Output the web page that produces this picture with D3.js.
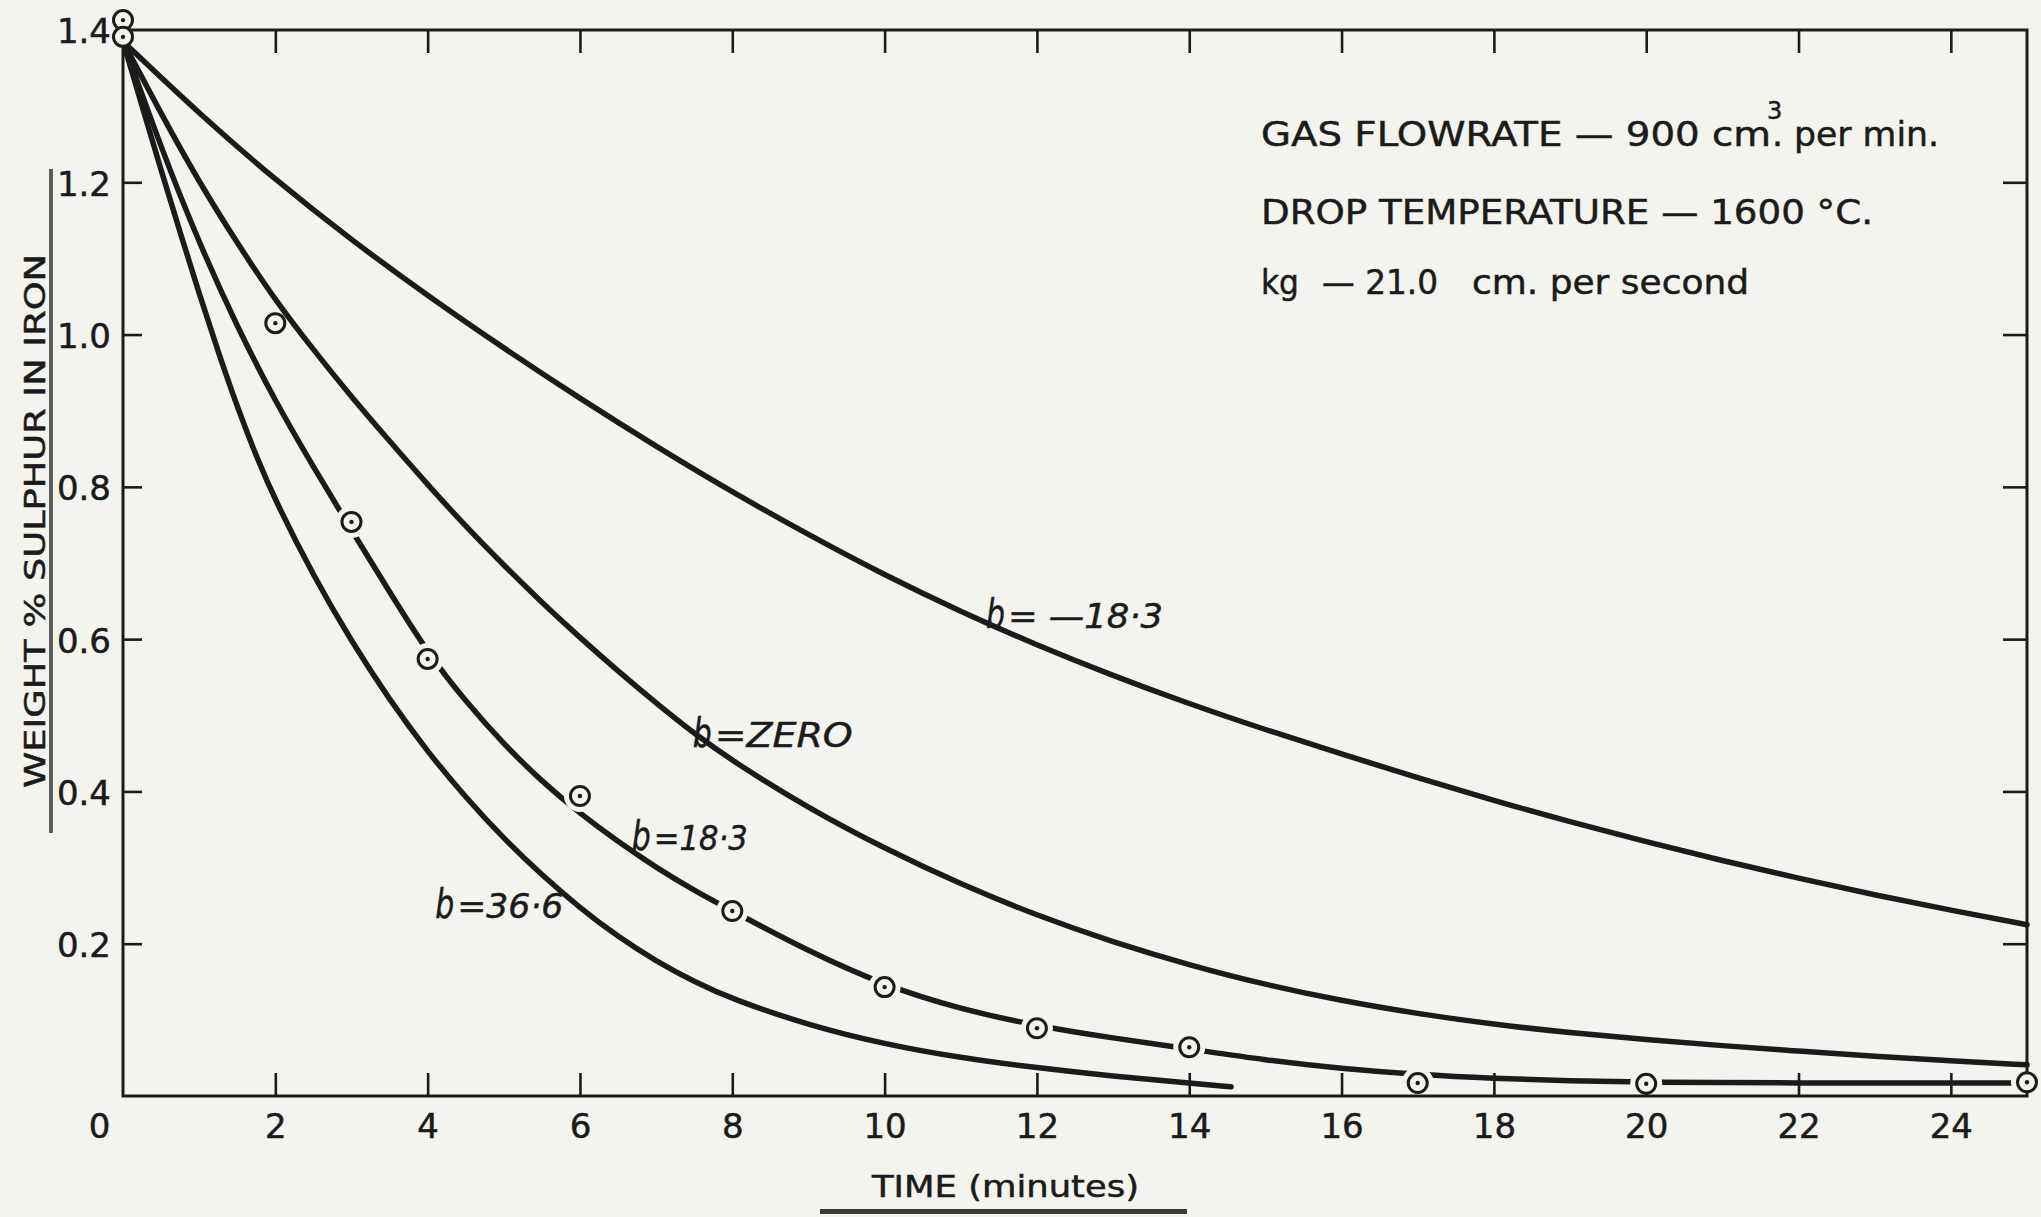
<!DOCTYPE html>
<html>
<head>
<meta charset="utf-8">
<script src="https://cdn.jsdelivr.net/npm/d3@7"></script>
<style>
  html, body { margin: 0; padding: 0; background: #f4f4ee; }
  svg { display: block; }
  text { font-family: "DejaVu Sans", "Liberation Sans", sans-serif; fill: #1b1b1b; stroke: #1b1b1b; stroke-width: 0.5; }
</style>
</head>
<body>
<svg id="chart" width="2041" height="1217"></svg>
<script>
// Sulphur removal from a falling iron drop: weight % S against time
// for four values of the parameter b, with measured points.

// ---- curve b = -18.3 ----
const timeNeg183 = [0, 1, 2, 3, 4, 5, 6, 7, 8, 9, 10, 11, 12, 13, 14, 15, 16, 17, 18, 19, 20, 21, 22, 23, 24, 25];
const sulphurNeg183 = [1.385, 1.29, 1.203, 1.124, 1.051, 0.982, 0.916, 0.853, 0.793, 0.737, 0.684, 0.636, 0.592, 0.552, 0.515, 0.481, 0.449, 0.418, 0.388, 0.36, 0.334, 0.309, 0.286, 0.264, 0.244, 0.225];

// ---- curve b = zero ----
const timeZero = [0, 0.5, 1, 1.5, 2, 2.5, 3, 3.5, 4, 4.5, 5, 5.5, 6, 6.5, 7, 7.5, 8, 9, 10, 11, 12, 13, 14, 15, 16, 17, 18, 19, 20, 21, 22, 23, 24, 25];
const sulphurZero = [1.385, 1.29, 1.2, 1.12, 1.045, 0.98, 0.918, 0.86, 0.803, 0.748, 0.697, 0.648, 0.602, 0.558, 0.516, 0.476, 0.44, 0.378, 0.325, 0.278, 0.237, 0.202, 0.172, 0.146, 0.125, 0.108, 0.094, 0.083, 0.074, 0.066, 0.059, 0.052, 0.046, 0.041];

// ---- curve b = 18.3 ----
const time183 = [0, 0.5, 1, 1.5, 2, 2.5, 3, 3.5, 4, 4.5, 5, 5.5, 6, 6.5, 7, 7.5, 8, 9, 10, 11, 12, 13, 14, 15, 16, 17, 18, 19, 20, 22, 24, 25];
const sulphur183 = [1.385, 1.245, 1.12, 1.01, 0.912, 0.826, 0.743, 0.662, 0.582, 0.518, 0.462, 0.413, 0.371, 0.334, 0.3, 0.27, 0.243, 0.19, 0.145, 0.114, 0.092, 0.076, 0.062, 0.047, 0.036, 0.028, 0.023, 0.02, 0.018, 0.017, 0.017, 0.017];

// ---- curve b = 36.6 ----
const time366 = [0, 0.25, 0.5, 0.75, 1, 1.25, 1.5, 1.75, 2, 2.5, 3, 3.5, 4, 4.5, 5, 5.5, 6, 6.5, 7, 7.5, 8, 9, 10, 11, 12, 13, 14, 14.55];
const sulphur366 = [1.385, 1.3, 1.216, 1.134, 1.054, 0.977, 0.905, 0.84, 0.782, 0.683, 0.597, 0.52, 0.452, 0.392, 0.338, 0.29, 0.247, 0.209, 0.177, 0.15, 0.127, 0.093, 0.068, 0.05, 0.037, 0.026, 0.017, 0.012];

// ---- measured points ----
const pointTime = [0, 0, 2, 3, 4, 6, 8, 10, 12, 14, 17, 20, 25];
const pointSulphur = [1.413, 1.391, 1.015, 0.754, 0.574, 0.394, 0.243, 0.143, 0.089, 0.064, 0.017, 0.016, 0.018];

// ---- axis ticks ----
const xTickValues = [0, 2, 4, 6, 8, 10, 12, 14, 16, 18, 20, 22, 24];
const yTickValues = [0.2, 0.4, 0.6, 0.8, 1.0, 1.2, 1.4];

// ---- curve labels (anchored in data units) ----
const labelNames = ["= \u201418\u00b73", "=ZERO", "=18\u00b73", "=36\u00b76"];
const labelTime = [11.33, 7.48, 6.68, 4.10];
const labelSulphur = [0.615, 0.458, 0.323, 0.234];

// ---- styling ----
const ink = "#1b1b1b";
const paper = "#f4f4ee";
const labelWidths = [157, 140, 96, 108];

const svg = d3.select("#chart");

const x = d3.scaleLinear().domain([0, 25]).range([123, 2027]);
const y = d3.scaleLinear().domain([0, 1.4]).range([1096, 30]);

const defs = svg.append("defs");

// paper
svg.append("rect").attr("width", 2041).attr("height", 1217).attr("fill", paper);

// ---- axes (ticks point inwards) ----
function styleAxis(g) {
  g.attr("color", ink)
   .attr("font-family", "DejaVu Sans, Liberation Sans, sans-serif")
   .attr("font-size", 34);
  g.select(".domain").remove();
  g.selectAll(".tick line").attr("stroke-width", 2.6);
}

const gBottom = svg.append("g")
  .attr("transform", `translate(0,${y(0)})`)
  .call(d3.axisBottom(x).tickValues(xTickValues).tickSizeInner(-23).tickSizeOuter(0)
        .tickPadding(18).tickFormat(d3.format("d")))
  .call(styleAxis);
gBottom.selectAll(".tick").filter(d => d === 0).select("line").remove();
gBottom.selectAll(".tick").filter(d => d === 0).select("text").attr("x", -24);

const gLeft = svg.append("g")
  .attr("transform", `translate(${x(0)},0)`)
  .call(d3.axisLeft(y).tickValues(yTickValues).tickSizeInner(-19).tickSizeOuter(0)
        .tickPadding(12).tickFormat(d3.format(".1f")))
  .call(styleAxis);
gLeft.selectAll(".tick text").attr("dy", "0.38em");
gLeft.selectAll(".tick").filter(d => d === 1.4).select("line").remove();

svg.append("g")
  .attr("transform", `translate(0,${y(1.4)})`)
  .call(d3.axisTop(x).tickValues(xTickValues.filter(d => d > 0)).tickSizeInner(-23)
        .tickSizeOuter(0).tickFormat(""))
  .call(styleAxis);

svg.append("g")
  .attr("transform", `translate(${x(25)},0)`)
  .call(d3.axisRight(y).tickValues(yTickValues.filter(d => d < 1.4)).tickSizeInner(-24)
        .tickSizeOuter(0).tickFormat(""))
  .call(styleAxis);

// frame
svg.append("rect")
  .attr("x", x(0)).attr("y", y(1.4))
  .attr("width", x(25) - x(0)).attr("height", y(0) - y(1.4))
  .attr("fill", "none").attr("stroke", ink).attr("stroke-width", 3);

// ---- curves ----
const line = d3.line().x(d => x(d.t)).y(d => y(d.v)).curve(d3.curveBasis);
const zip = (ts, vs) => ts.map((t, i) => ({ t, v: vs[i] }));

const points = zip(pointTime, pointSulphur);

// the measured curve breaks around each circled point
const mask = defs.append("mask").attr("id", "pointGaps").attr("maskUnits", "userSpaceOnUse")
  .attr("x", 0).attr("y", 0).attr("width", 2041).attr("height", 1217);
mask.append("rect").attr("width", 2041).attr("height", 1217).attr("fill", "white");
mask.selectAll("circle").data(points).join("circle")
  .attr("cx", d => x(d.t)).attr("cy", d => y(d.v)).attr("r", 16).attr("fill", "black");

const curves = [
  { data: zip(timeNeg183, sulphurNeg183), gaps: false },
  { data: zip(timeZero, sulphurZero), gaps: false },
  { data: zip(time183, sulphur183), gaps: true },
  { data: zip(time366, sulphur366), gaps: false }
];

svg.append("g").selectAll("path").data(curves).join("path")
  .attr("d", d => line(d.data))
  .attr("fill", "none")
  .attr("stroke", ink)
  .attr("stroke-width", 5.5)
  .attr("stroke-linecap", "round")
  .attr("mask", d => d.gaps ? "url(#pointGaps)" : null);

// ---- measured points ----
const gPts = svg.append("g");
gPts.selectAll("circle.ring").data(points).join("circle")
  .attr("class", "ring")
  .attr("cx", d => x(d.t)).attr("cy", d => y(d.v)).attr("r", 9.5)
  .attr("fill", paper).attr("stroke", ink).attr("stroke-width", 3);
gPts.selectAll("circle.dot").data(points).join("circle")
  .attr("class", "dot")
  .attr("cx", d => x(d.t)).attr("cy", d => y(d.v)).attr("r", 2.2)
  .attr("fill", ink);

// ---- curve labels ----
const gLab = svg.append("g").attr("font-style", "italic");
labelNames.forEach((name, i) => {
  const lx = x(labelTime[i]), ly = y(labelSulphur[i]);
  gLab.append("text").attr("x", lx).attr("y", ly)
    .attr("font-size", 40)
    .attr("textLength", 19).attr("lengthAdjust", "spacingAndGlyphs")
    .text("b");
  gLab.append("text").attr("x", lx + 22).attr("y", ly)
    .attr("font-size", 34)
    .attr("textLength", labelWidths[i] - 2).attr("lengthAdjust", "spacingAndGlyphs")
    .text(name);
});

// ---- experimental conditions ----
const gNote = svg.append("g").attr("font-size", 34);
const flow = gNote.append("text");
flow.append("tspan").attr("x", 1261).attr("y", 146)
  .attr("textLength", 510).attr("lengthAdjust", "spacingAndGlyphs")
  .text("GAS FLOWRATE \u2014 900 cm");
flow.append("tspan").attr("x", 1767).attr("y", 119).attr("font-size", 24).text("3");
flow.append("tspan").attr("x", 1772).attr("y", 146)
  .attr("textLength", 167).attr("lengthAdjust", "spacingAndGlyphs")
  .text(". per min.");
gNote.append("text").attr("x", 1261).attr("y", 224)
  .attr("textLength", 612).attr("lengthAdjust", "spacingAndGlyphs")
  .text("DROP TEMPERATURE \u2014 1600 \u00b0C.");
gNote.append("text").attr("x", 1261).attr("y", 294)
  .attr("textLength", 38).attr("lengthAdjust", "spacingAndGlyphs")
  .text("kg");
gNote.append("text").attr("x", 1322).attr("y", 294)
  .attr("textLength", 116).attr("lengthAdjust", "spacingAndGlyphs")
  .text("\u2014 21.0");
gNote.append("text").attr("x", 1472).attr("y", 294)
  .attr("textLength", 277).attr("lengthAdjust", "spacingAndGlyphs")
  .text("cm. per second");

// ---- axis titles ----
svg.append("text")
  .attr("transform", "translate(45,521) rotate(-90)")
  .attr("text-anchor", "middle")
  .attr("font-size", 29)
  .attr("textLength", 534).attr("lengthAdjust", "spacingAndGlyphs")
  .text("WEIGHT % SULPHUR IN IRON");
svg.append("rect").attr("x", 49).attr("y", 169).attr("width", 4).attr("height", 664)
  .attr("fill", "#5e5e5e");

svg.append("text")
  .attr("x", 872).attr("y", 1197)
  .attr("font-size", 30)
  .attr("textLength", 267).attr("lengthAdjust", "spacingAndGlyphs")
  .text("TIME (minutes)");
svg.append("rect").attr("x", 820).attr("y", 1209).attr("width", 367).attr("height", 5)
  .attr("fill", "#3c3c3c");
</script>
</body>
</html>
